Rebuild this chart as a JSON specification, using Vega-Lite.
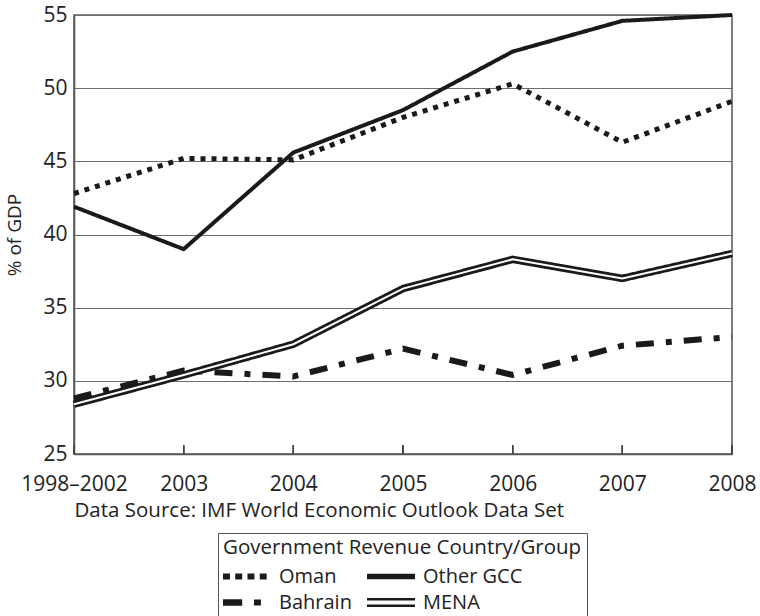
{
  "$schema": "https://vega.github.io/schema/vega-lite/v6.json",
  "width": 658,
  "height": 439,
  "autosize": {"type": "none"},
  "padding": {"left": 74, "top": 15, "right": 28, "bottom": 162},
  "background": "white",
  "config": {
    "font": "Open Sans",
    "view": {"stroke": "#555555", "strokeWidth": 1.5},
    "axis": {
      "labelFont": "Open Sans",
      "titleFont": "Open Sans",
      "labelColor": "#222222",
      "titleColor": "#222222",
      "labelFontSize": 21,
      "titleFontSize": 19,
      "titleFontWeight": "normal",
      "domainColor": "#555555",
      "domainWidth": 1.5
    }
  },
  "data": {
    "values": [
      {"Year": "1998–2002", "Group": "Oman", "Revenue": 42.8},
      {"Year": "2003", "Group": "Oman", "Revenue": 45.2},
      {"Year": "2004", "Group": "Oman", "Revenue": 45.1},
      {"Year": "2005", "Group": "Oman", "Revenue": 48.0},
      {"Year": "2006", "Group": "Oman", "Revenue": 50.3},
      {"Year": "2007", "Group": "Oman", "Revenue": 46.3},
      {"Year": "2008", "Group": "Oman", "Revenue": 49.1},
      {"Year": "1998–2002", "Group": "Other GCC", "Revenue": 41.9},
      {"Year": "2003", "Group": "Other GCC", "Revenue": 39.0},
      {"Year": "2004", "Group": "Other GCC", "Revenue": 45.6},
      {"Year": "2005", "Group": "Other GCC", "Revenue": 48.5},
      {"Year": "2006", "Group": "Other GCC", "Revenue": 52.5},
      {"Year": "2007", "Group": "Other GCC", "Revenue": 54.6},
      {"Year": "2008", "Group": "Other GCC", "Revenue": 55.0},
      {"Year": "1998–2002", "Group": "Bahrain", "Revenue": 28.8},
      {"Year": "2003", "Group": "Bahrain", "Revenue": 30.7},
      {"Year": "2004", "Group": "Bahrain", "Revenue": 30.3},
      {"Year": "2005", "Group": "Bahrain", "Revenue": 32.2},
      {"Year": "2006", "Group": "Bahrain", "Revenue": 30.4},
      {"Year": "2007", "Group": "Bahrain", "Revenue": 32.4},
      {"Year": "2008", "Group": "Bahrain", "Revenue": 33.0},
      {"Year": "1998–2002", "Group": "MENA", "Revenue": 28.4},
      {"Year": "2003", "Group": "MENA", "Revenue": 30.4},
      {"Year": "2004", "Group": "MENA", "Revenue": 32.5},
      {"Year": "2005", "Group": "MENA", "Revenue": 36.3},
      {"Year": "2006", "Group": "MENA", "Revenue": 38.3},
      {"Year": "2007", "Group": "MENA", "Revenue": 37.0},
      {"Year": "2008", "Group": "MENA", "Revenue": 38.7}
    ]
  },
  "layer": [
    {
      "mark": {"type": "line", "color": "#1a1a1a", "strokeCap": "butt", "strokeJoin": "miter"},
      "encoding": {
        "x": {
          "field": "Year",
          "type": "ordinal",
          "sort": ["1998–2002", "2003", "2004", "2005", "2006", "2007", "2008"],
          "scale": {"type": "point", "padding": 0},
          "axis": {
            "title": "Data Source: IMF World Economic Outlook Data Set",
            "titleAnchor": "start",
            "titleAlign": "left",
            "titleFontSize": 20.5,
            "titlePadding": 6,
            "labelAngle": 0,
            "labelPadding": 19,
            "ticks": false,
            "grid": false
          }
        },
        "y": {
          "field": "Revenue",
          "type": "quantitative",
          "scale": {"domain": [25, 55], "nice": false, "zero": false},
          "axis": {
            "title": "% of GDP",
            "values": [25, 30, 35, 40, 45, 50, 55],
            "ticks": false,
            "labelPadding": 7,
            "titlePadding": 18,
            "grid": true,
            "gridColor": "#6e6e6e",
            "gridWidth": 1.2
          }
        },
        "detail": {"field": "Group", "type": "nominal"},
        "strokeDash": {
          "field": "Group",
          "type": "nominal",
          "scale": {
            "domain": ["Bahrain", "MENA", "Oman", "Other GCC"],
            "range": [[18, 12, 6, 12], [1, 0], [5, 6], [1, 0]]
          },
          "legend": null
        },
        "strokeWidth": {
          "field": "Group",
          "type": "nominal",
          "scale": {
            "type": "ordinal",
            "domain": ["Bahrain", "MENA", "Oman", "Other GCC"],
            "range": [6, 7.5, 5, 4]
          },
          "legend": null
        }
      }
    },
    {
      "transform": [{"filter": "datum.Group === 'MENA'"}],
      "mark": {"type": "line", "color": "white", "strokeWidth": 2, "strokeJoin": "miter"},
      "encoding": {
        "x": {"field": "Year", "type": "ordinal", "sort": ["1998–2002", "2003", "2004", "2005", "2006", "2007", "2008"]},
        "y": {"field": "Revenue", "type": "quantitative"}
      }
    },
    {
      "mark": {"type": "rule", "color": "#444444", "strokeWidth": 1.3},
      "encoding": {
        "x": {"field": "Year", "type": "ordinal", "sort": ["1998–2002", "2003", "2004", "2005", "2006", "2007", "2008"]},
        "y": {"datum": 25},
        "y2": {"datum": 25.6}
      }
    },
    {
      "transform": [{"filter": "datum.Revenue > 1000"}],
      "mark": {"type": "point", "filled": true, "color": "#1a1a1a", "opacity": 1},
      "encoding": {
        "x": {"field": "Year", "type": "ordinal", "sort": ["1998–2002", "2003", "2004", "2005", "2006", "2007", "2008"]},
        "y": {"field": "Revenue", "type": "quantitative"},
        "shape": {
          "field": "Group",
          "type": "nominal",
          "scale": {
            "domain": ["Oman", "Bahrain", "Other GCC", "MENA"],
            "range": [
              "M-1,-0.13h0.29v0.26h-0.29z M-0.49,-0.13h0.29v0.26h-0.29z M0.02,-0.13h0.29v0.26h-0.29z M0.53,-0.13h0.29v0.26h-0.29z",
              "M-1,-0.14H-0.2V0.14H-1z M0.29,-0.13H0.58V0.13H0.29z",
              "M-1,-0.11H1V0.11H-1z",
              "M-1,-0.19H1V-0.085H-1z M-1,0.085H1V0.19H-1z"
            ]
          },
          "legend": {
            "title": "Government Revenue Country/Group",
            "orient": "none",
            "legendX": 144,
            "legendY": 518,
            "columns": 2,
            "padding": 5,
            "strokeColor": "#555555",
            "titleFont": "Open Sans",
            "labelFont": "Open Sans",
            "titleFontSize": 20.5,
            "titleFontWeight": "normal",
            "titleColor": "#222222",
            "titlePadding": 8,
            "titleLimit": 1000,
            "labelFontSize": 20,
            "labelColor": "#222222",
            "labelLimit": 1000,
            "labelOffset": 8,
            "symbolSize": 2304,
            "symbolStrokeWidth": 0,
            "symbolOpacity": 1,
            "symbolFillColor": "#111111",
            "clipHeight": 20,
            "rowPadding": 6,
            "columnPadding": 15
          }
        }
      }
    }
  ]
}
